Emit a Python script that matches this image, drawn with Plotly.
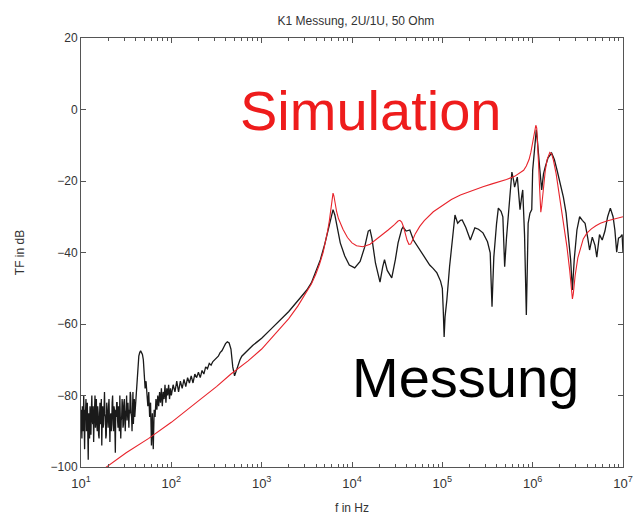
import plotly.graph_objects as go

# ---- data (frequency given as log10(f / Hz), magnitude in dB) ----
mess_log_f = [
    1.000, 1.005, 1.010, 1.015, 1.020, 1.025, 1.030, 1.035, 1.040, 1.045,
    1.050, 1.055, 1.060, 1.065, 1.070, 1.075, 1.080, 1.085, 1.090, 1.095,
    1.100, 1.105, 1.110, 1.115, 1.120, 1.125, 1.130, 1.135, 1.140, 1.145,
    1.150, 1.155, 1.160, 1.165, 1.170, 1.175, 1.180, 1.185, 1.190, 1.195,
    1.200, 1.205, 1.210, 1.215, 1.220, 1.225, 1.230, 1.235, 1.240, 1.245,
    1.250, 1.255, 1.260, 1.265, 1.270, 1.275, 1.280, 1.285, 1.290, 1.295,
    1.300, 1.305, 1.310, 1.315, 1.320, 1.325, 1.330, 1.335, 1.340, 1.345,
    1.350, 1.355, 1.360, 1.365, 1.370, 1.375, 1.380, 1.385, 1.390, 1.395,
    1.400, 1.405, 1.410, 1.415, 1.420, 1.425, 1.430, 1.435, 1.440, 1.445,
    1.450, 1.455, 1.460, 1.465, 1.470, 1.475, 1.480, 1.485, 1.490, 1.495,
    1.500, 1.505, 1.510, 1.515, 1.520, 1.525, 1.530, 1.535, 1.540, 1.545,
    1.550, 1.555, 1.560, 1.565, 1.570, 1.575, 1.580, 1.585, 1.590, 1.595,
    1.60, 1.61, 1.62, 1.63, 1.64, 1.65, 1.66, 1.67, 1.68, 1.69,
    1.70, 1.71, 1.72, 1.73, 1.74, 1.75, 1.76, 1.77, 1.78, 1.79,
    1.80, 1.81, 1.82, 1.83, 1.84, 1.85, 1.86, 1.87, 1.88, 1.89,
    1.90, 1.91, 1.92, 1.93, 1.94, 1.95, 1.96, 1.97, 1.98, 1.99,
    2.00, 2.02, 2.04, 2.06, 2.08, 2.10, 2.12, 2.14, 2.16, 2.18,
    2.20, 2.22, 2.24, 2.26, 2.28, 2.30, 2.32, 2.34, 2.36, 2.38,
    2.40, 2.42, 2.44, 2.46, 2.48, 2.50, 2.52, 2.54, 2.56, 2.58,
    2.60, 2.62, 2.64, 2.66, 2.68, 2.70, 2.72, 2.74, 2.76, 2.78,
    2.82, 2.86, 2.90, 2.95, 3.00, 3.10, 3.20, 3.30, 3.40, 3.50,
    3.55, 3.60, 3.65, 3.70, 3.74, 3.77, 3.79, 3.81, 3.84, 3.87,
    3.92, 3.97, 4.03, 4.09, 4.14, 4.18, 4.20, 4.22, 4.26, 4.31,
    4.34, 4.36, 4.39, 4.44, 4.48, 4.51, 4.55, 4.565, 4.60, 4.64,
    4.68, 4.72, 4.75, 4.80, 4.86, 4.90, 4.94, 4.98, 5.00, 5.01,
    5.02, 5.03, 5.05, 5.08, 5.11, 5.14, 5.17, 5.20, 5.22, 5.26,
    5.31, 5.34, 5.36, 5.40, 5.45, 5.50, 5.53, 5.54, 5.55, 5.56,
    5.57, 5.60, 5.62, 5.65, 5.67, 5.68, 5.69, 5.71, 5.73, 5.75,
    5.77, 5.79, 5.80, 5.83, 5.85, 5.86, 5.88, 5.89, 5.91, 5.93,
    5.94, 5.95, 5.97, 5.99, 6.00, 6.02, 6.04, 6.05, 6.06, 6.08,
    6.10, 6.12, 6.14, 6.17, 6.21, 6.24, 6.27, 6.30, 6.34, 6.37,
    6.39, 6.42, 6.44, 6.46, 6.49, 6.52, 6.55, 6.58, 6.61, 6.63,
    6.66, 6.69, 6.71, 6.74, 6.77, 6.80, 6.83, 6.86, 6.89, 6.91,
    6.93, 6.95, 6.97, 6.99, 7.00,
]
mess_db = [
    -84, -88, -92, -83, -86, -90, -80, -87, -95, -84,
    -85, -81, -90, -86, -82, -89, -98, -85, -87, -92,
    -83, -86, -91, -84, -80, -87, -88, -83, -93, -87,
    -84, -80, -89, -85, -81, -88, -90, -83, -85, -91,
    -92, -86, -82, -88, -87, -81, -94, -86, -83, -89,
    -88, -84, -79, -85, -86, -92, -91, -82, -84, -88,
    -89, -83, -81, -87, -93, -86, -85, -90, -88, -82,
    -80, -86, -90, -83, -84, -89, -96, -84, -86, -82,
    -82, -87, -89, -83, -85, -90, -80, -84, -92, -87,
    -86, -81, -83, -89, -88, -82, -81, -86, -90, -85,
    -84, -80, -87, -83, -82, -88, -89, -84, -85, -79,
    -80, -85, -86, -90, -83, -79, -88, -84, -81, -86,
    -84, -80, -76, -72, -69, -68, -67.5, -68, -68.5, -70,
    -74, -78, -76, -80, -83, -79, -86, -82, -94, -85,
    -95, -84, -86, -81, -84, -80, -83, -79, -82, -78,
    -83, -79, -81, -77, -82, -78, -80, -77, -81, -78,
    -80, -77, -79, -76, -79, -76, -78, -75.5, -77.5, -75,
    -76.5, -74.5, -76.5, -74, -75, -73.5, -75, -73, -74, -72,
    -72.5, -71, -71.5, -70.5, -70, -69.5, -69, -68, -67.5, -66.5,
    -65.5, -65, -65.3, -67, -72, -74.5, -73, -71, -70, -69,
    -68, -66.8, -66, -65, -64, -61.5, -59, -56.5, -53.5, -50.5,
    -48.5, -45.5, -42, -37.5, -33, -29.5, -28, -29.5, -34, -37.3,
    -41, -43.5, -44.3, -42.5, -38.5, -34, -33.7, -36, -43, -48.3,
    -44, -42, -45, -47.1, -42, -37.3, -33.5, -32.9, -34, -33.7,
    -36.5, -38, -39.3, -41, -43.5, -44.5, -45.7, -48, -50, -56,
    -63.6, -58, -53.3, -44, -35.7, -29.5, -31.8, -31, -30.9, -33,
    -36.5, -34.5, -33.1, -33.5, -34.5, -37, -40.1, -48, -55.2, -48,
    -41.3, -32, -27.6, -28.5, -30, -37, -44, -36, -29.5, -22,
    -17.5, -20, -21.7, -18.9, -24, -28, -24, -22.5, -35, -57.5,
    -45, -31.8, -29, -28, -17, -10, -5.7, -8, -12, -17,
    -22.5, -18, -16, -13.5, -12.2, -14, -17, -20.5, -24.5, -29,
    -33.7, -42, -50.5, -42, -33.7, -30, -31, -31.8, -36, -39.3,
    -35.7, -38, -41.3, -35, -36.5, -34, -30, -27.6, -30, -33.7,
    -39.9, -36, -35.7, -35, -40,
]

sim_log_f = [
    1.20, 1.50, 1.75, 2.00, 2.30, 2.50, 2.66, 2.85, 3.00, 3.20,
    3.30, 3.40, 3.50, 3.55, 3.60, 3.64, 3.68, 3.71, 3.73, 3.75,
    3.77, 3.78, 3.79, 3.80, 3.81, 3.83, 3.85, 3.87, 3.90, 3.95,
    4.00, 4.05, 4.12, 4.20, 4.30, 4.40, 4.47, 4.51, 4.53, 4.55,
    4.57, 4.59, 4.61, 4.63, 4.65, 4.67, 4.70, 4.75, 4.80, 4.90,
    5.00, 5.10, 5.20, 5.34, 5.45, 5.55, 5.64, 5.71, 5.80, 5.86,
    5.90, 5.93, 5.96, 5.98, 6.00, 6.02, 6.035, 6.045, 6.055, 6.065,
    6.075, 6.085, 6.09, 6.10, 6.12, 6.14, 6.16, 6.18, 6.19, 6.21,
    6.23, 6.26, 6.29, 6.32, 6.35, 6.38, 6.41, 6.43, 6.44, 6.45,
    6.47, 6.50, 6.53, 6.56, 6.60, 6.65, 6.70, 6.75, 6.82, 6.90,
    7.00,
]
sim_db = [
    -101.5, -96, -92, -87.5, -81.5, -77.5, -74, -70.3, -67, -61.5,
    -58.5, -55, -51, -48.8, -46, -43.3, -40, -36.8, -34, -31,
    -27.5, -25.3, -23.4, -24.2, -26, -28.6, -30.5, -31.8, -33.5, -35.8,
    -37.3, -38.1, -38.4, -37.7, -35.8, -33.7, -32.2, -31.2, -31, -31.5,
    -32.8, -34.8, -36.6, -37.7, -37.6, -36.6, -34.8, -32.7, -31.1, -28.6,
    -26.8, -25.2, -23.9, -22.5, -21.6, -20.8, -20.2, -19.6, -18.7, -17.8,
    -17, -15.8, -14, -12, -9.5, -6.5, -4.4, -5.2, -9, -15,
    -21, -27, -28.7, -27, -21.5, -17, -14, -12.4, -12, -12.4,
    -14.2, -18, -22.8, -28, -33, -38.5, -45, -50.5, -53, -51.5,
    -46.5, -41.5, -38.5, -36.2, -34.6, -33.4, -32.5, -31.8, -31.2, -30.6,
    -30,
]

title_text = "K1 Messung, 2U/1U, 50 Ohm"
x_label = "f in Hz"
y_label = "TF in dB"
x_tick_vals = [1e1, 1e2, 1e3, 1e4, 1e5, 1e6, 1e7]
x_tick_text = ["10<sup>1</sup>", "10<sup>2</sup>", "10<sup>3</sup>", "10<sup>4</sup>",
               "10<sup>5</sup>", "10<sup>6</sup>", "10<sup>7</sup>"]
y_ticks = [-100, -80, -60, -40, -20, 0, 20]

mess_f = [10 ** e for e in mess_log_f]
sim_f = [10 ** e for e in sim_log_f]
minor_vals = [d * v for v in x_tick_vals[:-1] for d in range(2, 10)]

FONT = "Liberation Sans, Arial, Helvetica, sans-serif"
AX = "#555555"
TXT = "#333333"

fig = go.Figure()
fig.add_trace(go.Scatter(x=mess_f, y=mess_db, mode="lines",
                         line=dict(color="#1a1a1a", width=1.3),
                         name="Messung", showlegend=False))
fig.add_trace(go.Scatter(x=sim_f, y=sim_db, mode="lines",
                         line=dict(color="#e8242c", width=1.1),
                         name="Simulation", showlegend=False))

fig.add_annotation(x=4.21, y=-0.2, xref="x", yref="y", text="Simulation",
                   showarrow=False, font=dict(family=FONT, size=56, color="#ee1c1c"))
fig.add_annotation(x=5.26, y=-75, xref="x", yref="y", text="Messung",
                   showarrow=False, font=dict(family=FONT, size=56, color="#000000"))

# the page body adds an 8 px offset, so the figure is 8 px smaller than the window
fig.update_layout(
    width=635, height=509,
    margin=dict(l=73, r=20, t=30, b=50),
    paper_bgcolor="white", plot_bgcolor="white",
    font=dict(family=FONT, size=12, color=TXT),
    title=dict(text=title_text, x=0.548, xanchor="center", y=0.975, yanchor="middle",
               font=dict(family=FONT, size=12, color=TXT)),
)
fig.update_xaxes(
    type="log", range=[1, 7], tickmode="array", tickvals=x_tick_vals, ticktext=x_tick_text,
    showgrid=False, zeroline=False,
    showline=True, linecolor=AX, linewidth=1, mirror="ticks",
    ticks="inside", ticklen=5, tickcolor=AX, ticklabelstandoff=4,
    minor=dict(ticks="inside", ticklen=3, tickcolor=AX, tickmode="array",
               tickvals=minor_vals, showgrid=False),
    tickfont=dict(family=FONT, size=13, color=TXT),
    title=dict(text=x_label, standoff=14, font=dict(family=FONT, size=12, color=TXT)),
    automargin=False,
)
fig.update_yaxes(
    range=[-100, 20], tickvals=y_ticks,
    showgrid=False, zeroline=False,
    showline=True, linecolor=AX, linewidth=1, mirror="ticks",
    ticks="inside", ticklen=5, tickcolor=AX,
    tickfont=dict(family=FONT, size=12, color=TXT),
    title=dict(text=y_label, standoff=23, font=dict(family=FONT, size=12, color=TXT)),
    automargin=False,
)

fig.write_html("out.html")
